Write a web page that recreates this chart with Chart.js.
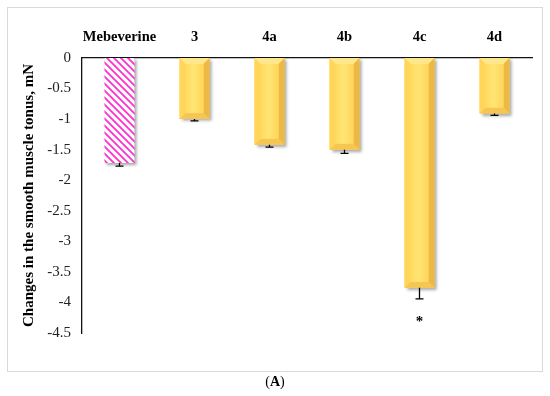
<!DOCTYPE html>
<html>
<head>
<meta charset="utf-8">
<script src="https://cdn.jsdelivr.net/npm/chart.js@4"></script>
<style>
  body { margin: 0; background: #fff; }
  #wrap { position: relative; width: 550px; height: 396px; }
  #frame { position: absolute; left: 7px; top: 7px; width: 534px; height: 363px; border: 1px solid #d9d9d9; }
  #myChart { position: absolute; left: 0; top: 0; }
  #caption { position: absolute; left: 0; width: 550px; top: 374px; text-align: center;
             font: 14px "Liberation Serif", serif; color: #000; }
</style>
</head>
<body>
<div id="wrap">
  <div id="frame"></div>
  <canvas id="myChart" width="550" height="396"></canvas>
  <div id="caption">(<b>A</b>)</div>
</div>
<script>
// data block
const labels = ['Mebeverine', '3', '4a', '4b', '4c', '4d'];
const values = [-1.72, -1.0, -1.42, -1.5, -3.76, -0.91];
const errors = [0.05, 0.03, 0.04, 0.06, 0.18, 0.03];
const marks = ['', '', '', '', '*', ''];
const yTicks = { min: -4.5, max: 0, step: 0.5 };

// striped pattern for the reference drug
function makeStripes() {
  const c = document.createElement('canvas');
  c.width = 7; c.height = 7;
  const g = c.getContext('2d');
  g.fillStyle = '#fff';
  g.fillRect(0, 0, 7, 7);
  g.strokeStyle = '#ff2fd0';
  g.lineWidth = 1.8;
  g.beginPath();
  g.moveTo(-1, -1); g.lineTo(8, 8);
  g.moveTo(-8, -1); g.lineTo(1, 8);
  g.moveTo(6, -1); g.lineTo(15, 8);
  g.stroke();
  return g.createPattern(c, 'repeat');
}
const stripes = makeStripes();

// shadow under bars
const shadowPlugin = {
  id: 'shadow',
  beforeDatasetDraw(chart) {
    const ctx = chart.ctx;
    ctx.save();
    ctx.shadowColor = 'rgba(0,0,0,0.35)';
    ctx.shadowOffsetX = 2;
    ctx.shadowOffsetY = 2;
    ctx.shadowBlur = 3;
  },
  afterDatasetDraw(chart) {
    chart.ctx.restore();
  }
};

// bevel, error bars and significance marks
const extrasPlugin = {
  id: 'extras',
  afterDatasetsDraw(chart) {
    const ctx = chart.ctx;
    const yScale = chart.scales.y;
    const meta = chart.getDatasetMeta(0);
    meta.data.forEach((bar, i) => {
      const p = bar.getProps(['x', 'y', 'base', 'width'], true);
      const l = p.x - p.width / 2, r = p.x + p.width / 2;
      const t = Math.min(p.y, p.base), b = Math.max(p.y, p.base);
      if (i > 0) {
        const s = 6;
        const poly = (pts, col) => {
          ctx.fillStyle = col;
          ctx.beginPath();
          ctx.moveTo(pts[0][0], pts[0][1]);
          pts.slice(1).forEach(q => ctx.lineTo(q[0], q[1]));
          ctx.closePath();
          ctx.fill();
        };
        poly([[l, t], [r, t], [r - s, t + s], [l + s, t + s]], '#ffe88c');
        poly([[l, b], [r, b], [r - s, b - s], [l + s, b - s]], '#f6c655');
        poly([[l, t], [l + s, t + s], [l + s, b - s], [l, b]], '#ffd65a');
        poly([[r, t], [r - s, t + s], [r - s, b - s], [r, b]], '#ecb944');
        const g = ctx.createLinearGradient(l + s, 0, r - s, 0);
        g.addColorStop(0, '#ffda5e');
        g.addColorStop(0.45, '#ffe574');
        g.addColorStop(1, '#ffd55a');
        ctx.fillStyle = g;
        ctx.fillRect(l + s, t + s, r - l - 2 * s, b - t - 2 * s);
      }
      // error bar (downward only)
      const y1 = yScale.getPixelForValue(values[i]);
      const y2 = yScale.getPixelForValue(values[i] - errors[i]);
      ctx.save();
      ctx.strokeStyle = '#000';
      ctx.lineWidth = 1.3;
      ctx.beginPath();
      ctx.moveTo(p.x, y1);
      ctx.lineTo(p.x, y2);
      ctx.moveTo(p.x - 4, y2);
      ctx.lineTo(p.x + 4, y2);
      ctx.stroke();
      if (marks[i]) {
        ctx.fillStyle = '#000';
        ctx.font = 'bold 15px "Liberation Serif", serif';
        ctx.textAlign = 'center';
        ctx.textBaseline = 'middle';
        ctx.fillText(marks[i], p.x, y2 + 23);
      }
      ctx.restore();
    });
  }
};

const data = {
  labels: labels,
  datasets: [{
    label: 'Changes in the smooth muscle tonus',
    data: values,
    backgroundColor: ctx => ctx.dataIndex === 0 ? stripes : '#ffd95e',
    borderWidth: 0,
    barPercentage: 0.4,
    categoryPercentage: 1
  }]
};

const config = {
  type: 'bar',
  data,
  options: {
    responsive: false,
    animation: false,
    layout: { padding: { left: 12, top: 18, right: 18, bottom: 63 } },
    scales: {
      x: {
        position: 'top',
        grid: { display: false, drawTicks: false },
        border: { display: true, color: '#111', width: 1.3 },
        ticks: {
          color: '#000',
          padding: 12,
          maxRotation: 0,
          minRotation: 0,
          autoSkip: false,
          font: { family: '"Liberation Serif", serif', size: 14.5, weight: 'bold' }
        },
        afterFit: s => { s.height = 40; }
      },
      y: {
        min: yTicks.min,
        max: yTicks.max,
        grid: { display: false, drawTicks: false },
        border: { display: true, color: '#111', width: 1.3 },
        ticks: {
          stepSize: yTicks.step,
          color: '#222',
          padding: 11,
          callback: v => String(Math.round(v * 10) / 10),
          font: { family: '"Liberation Serif", serif', size: 15 }
        },
        title: {
          display: true,
          text: 'Changes in the smooth muscle tonus, mN',
          color: '#000',
          padding: { top: 8, bottom: 0 },
          font: { family: '"Liberation Serif", serif', size: 15, weight: 'bold' }
        },
        afterFit: s => { s.width = 70; }
      }
    },
    plugins: {
      legend: { display: false },
      tooltip: { enabled: false }
    }
  },
  plugins: [shadowPlugin, extrasPlugin]
};

const myChart = new Chart(document.getElementById('myChart'), config);
</script>
</body>
</html>
